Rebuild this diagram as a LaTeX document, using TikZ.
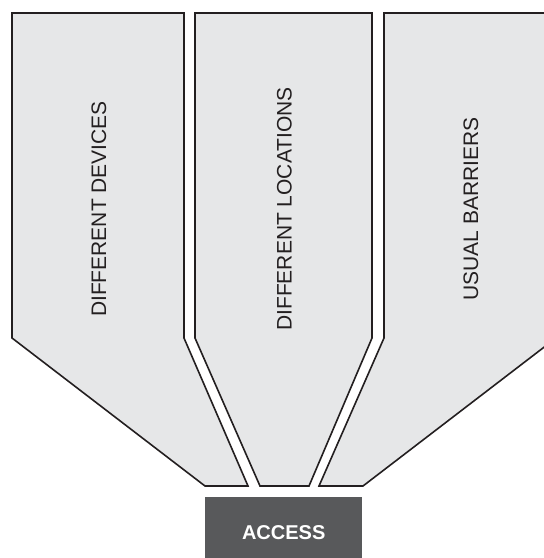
\documentclass[tikz,border=0pt]{standalone}
\usepackage{fontspec}
\setmainfont{Liberation Sans}
\usepackage{tikz}
\usetikzlibrary{positioning}
\definecolor{funnelgray}{HTML}{E6E7E8}
\definecolor{outline}{HTML}{231F20}
\definecolor{accessgray}{HTML}{58595B}
\tikzset{
	funnel/.style={
		draw=outline,
		fill=funnelgray,
		line width=1.6pt,
		line join=miter
	},
	funneltext/.style={
		rotate=90,
		text=outline,
		font=\fontsize{21}{24}\selectfont
	},
	accessbox/.style={
		rectangle,
		fill=accessgray,
		text=white,
		minimum width=157pt,
		minimum height=70pt,
		inner sep=0pt,
		font=\bfseries\fontsize{20}{23}\selectfont
	}
}

\begin{document}
\begin{tikzpicture}[x=1pt, y=-1pt]
	\useasboundingbox (0,0) rectangle (544,558);
	\clip (0,0) rectangle (544,558);
	\foreach \l/\r/\bl/\br/\name/\txt in {12/184/205/248/devices/DIFFERENT DEVICES, 195/372/260/309/locations/DIFFERENT LOCATIONS, 384/556/319/363/barriers/USUAL BARRIERS} {
		\draw [funnel] (\l,13) -- (\r,13) -- (\r,338) -- (\br,486) -- (\bl,486) -- (\l,338) -- cycle;
		\node [funneltext] (\name) at ({(\l+\r)/2+1},209) {\txt};
	}
	\node [accessbox, anchor=north west] (access) at (205,497) {ACCESS};
\end{tikzpicture}
\end{document}
